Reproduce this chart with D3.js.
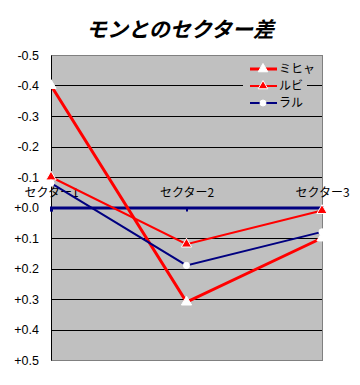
<!DOCTYPE html>
<meta charset="utf-8">
<style>
    body { margin: 0; background-color: #fff; }
    text { font-family: "Liberation Sans", "Noto Sans CJK JP", sans-serif; }
    .title { font-family: "Noto Sans CJK JP", sans-serif; font-size: 21px; font-style: italic; font-weight: bold; }
    .axis text { fill: #000; }
    .grid line { stroke: #000; stroke-width: 1px; shape-rendering: crispEdges; }
    .cat text { font-family: "Noto Sans CJK JP", sans-serif; font-size: 12px; }
</style>
<body>
<svg width="360" height="385"></svg>
<script src="https://d3js.org/d3.v7.min.js"></script>
<script>
    var categories = ["セクター1", "セクター2", "セクター3"];
    var yTicks = [-0.5, -0.4, -0.3, -0.2, -0.1, 0, 0.1, 0.2, 0.3, 0.4, 0.5];
    var seriesNames = ["ミヒャ", "ルビ", "ラル"];
    var mihya = [-0.40, 0.31, 0.10];
    var rubi = [-0.10, 0.12, 0.01];
    var raru = [-0.08, 0.19, 0.08];

    var series = [
        {name: seriesNames[0], values: mihya, color: "#ff0000", width: 3, marker: "tri", fill: "#fff"},
        {name: seriesNames[1], values: rubi, color: "#ff0000", width: 2, marker: "tri", fill: "#ff0000"},
        {name: seriesNames[2], values: raru, color: "#000080", width: 2, marker: "circle", fill: "#fff"}
    ];

    var svg = d3.select("svg"),
        margin = {top: 55, right: 38, bottom: 25, left: 51},
        width = +svg.attr("width") - margin.left - margin.right,
        height = +svg.attr("height") - margin.top - margin.bottom;

    var x = d3.scalePoint().domain(categories).range([0, width]);
    var y = d3.scaleLinear().domain([-0.5, 0.5]).range([0, height]);

    svg.append("text")
        .attr("class", "title")
        .attr("x", 180)
        .attr("y", 37)
        .attr("text-anchor", "middle")
        .text("モンとのセクター差");

    var g = svg.append("g")
        .attr("transform", "translate(" + margin.left + "," + margin.top + ")");

    g.append("rect")
        .attr("width", width)
        .attr("height", height)
        .attr("fill", "#c0c0c0")
        .attr("stroke", "#808080")
        .attr("shape-rendering", "crispEdges");

    // grid lines
    g.append("g")
        .attr("class", "grid")
        .selectAll("line")
        .data(yTicks.filter(function(d) { return Math.abs(d) < 0.45 && d !== 0; }))
        .enter().append("line")
        .attr("x1", 0)
        .attr("x2", width)
        .attr("y1", function(d) { return Math.round(y(d)) + 0.5; })
        .attr("y2", function(d) { return Math.round(y(d)) + 0.5; });

    // y axis
    var yAxis = g.append("g")
        .attr("class", "axis")
        .call(d3.axisLeft(y).tickValues(yTicks).tickSize(0).tickPadding(12)
            .tickFormat(function(d) { return (d > 0 || Math.abs(d) < 1e-9 ? "+" : "-") + Math.abs(d).toFixed(1); }));
    yAxis.select(".domain").attr("stroke", "#000").attr("stroke-width", 1);
    yAxis.selectAll("text").attr("font-size", "12.5px");

    // legend (background interrupts grid)
    var lg = g.append("g").attr("transform", "translate(192,4)");
    lg.append("rect").attr("width", 64).attr("height", 54).attr("fill", "#c0c0c0");

    // category axis at zero
    var xAxis = g.append("g")
        .attr("class", "cat")
        .attr("transform", "translate(0," + y(0) + ")")
        .call(d3.axisTop(x).tickSize(-4).tickPadding(14));
    xAxis.select(".domain").attr("stroke", "#000080").attr("stroke-width", 3);
    xAxis.selectAll(".tick line").attr("stroke", "#000080").attr("stroke-width", 2);
    xAxis.selectAll(".tick text").attr("fill", "#000").attr("dy", "0.3em");

    var line = d3.line()
        .x(function(d, i) { return x(categories[i]); })
        .y(function(d) { return y(d); });

    var sym = {tri: d3.symbolTriangle, circle: d3.symbolCircle};

    series.forEach(function(s) {
        g.append("path")
            .datum(s.values)
            .attr("fill", "none")
            .attr("stroke", s.color)
            .attr("stroke-width", s.width)
            .attr("d", line);
    });

    series.forEach(function(s) {
        g.selectAll(null)
            .data(s.values)
            .enter().append("path")
            .attr("transform", function(d, i) { return "translate(" + x(categories[i]) + "," + y(d) + ")"; })
            .attr("d", d3.symbol().type(sym[s.marker]).size(s.marker === "tri" ? 45 : 30))
            .attr("fill", s.fill)
            .attr("stroke", "#fff")
            .attr("stroke-width", 1);
    });

    // legend entries
    series.forEach(function(s, i) {
        var row = lg.append("g").attr("transform", "translate(0," + (10 + i * 17) + ")");
        row.append("line")
            .attr("x1", 7).attr("x2", 34)
            .attr("stroke", s.color).attr("stroke-width", s.width);
        row.append("path")
            .attr("transform", "translate(20,0)")
            .attr("d", d3.symbol().type(sym[s.marker]).size(s.marker === "tri" ? 40 : 28))
            .attr("fill", s.fill)
            .attr("stroke", "#fff");
        row.append("text")
            .attr("x", 36)
            .attr("dy", "0.35em")
            .attr("font-family", "Noto Sans CJK JP")
            .attr("font-size", "12px")
            .text(s.name);
    });
</script>
